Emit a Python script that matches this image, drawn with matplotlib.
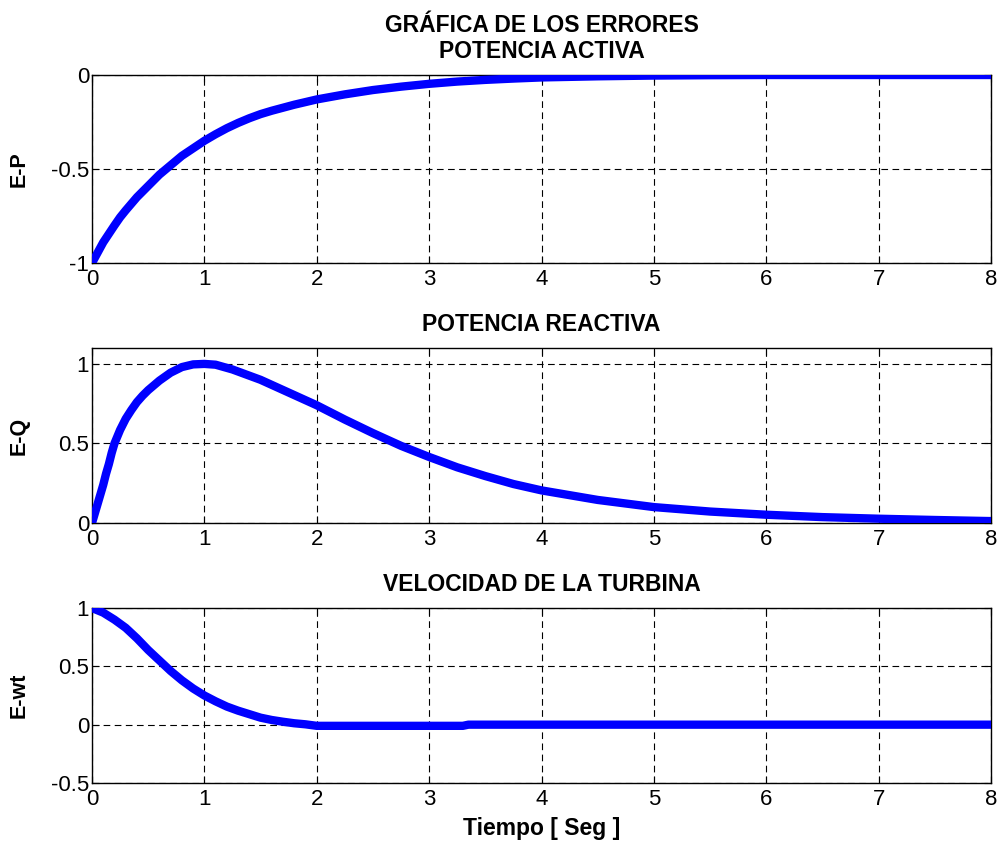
import matplotlib
matplotlib.use("Agg")
import matplotlib.pyplot as plt

plt.rcParams['font.family'] = ['Liberation Sans', 'DejaVu Sans']

# ---- data ----
t_p = [0, 0.05, 0.1, 0.15, 0.2, 0.25, 0.3, 0.4, 0.5, 0.6, 0.7, 0.8, 0.9, 1.0, 1.1,
       1.2, 1.3, 1.4, 1.5, 1.6, 1.8, 2.0, 2.25, 2.5, 2.75, 3.0, 3.25, 3.5, 3.75,
       4.0, 4.5, 5.0, 5.5, 6.0, 7.0, 8.0]
e_p = [-1.0, -0.945, -0.89, -0.845, -0.80, -0.757, -0.72, -0.65, -0.59, -0.53,
       -0.48, -0.43, -0.39, -0.35, -0.315, -0.283, -0.255, -0.23, -0.208, -0.19,
       -0.158, -0.13, -0.103, -0.08, -0.062, -0.047, -0.035, -0.026, -0.019,
       -0.013, -0.007, -0.003, -0.001, 0.0, 0.0, 0.0]

t_q = [0, 0.025, 0.05, 0.075, 0.1, 0.125, 0.15, 0.175, 0.2, 0.25, 0.3, 0.35, 0.4,
       0.45, 0.5, 0.6, 0.7, 0.8, 0.9, 1.0, 1.1, 1.25, 1.5, 1.75, 2.0, 2.25, 2.5,
       2.75, 3.0, 3.25, 3.5, 3.75, 4.0, 4.5, 5.0, 5.5, 6.0, 6.5, 7.0, 7.5, 8.0]
e_q = [0.0, 0.06, 0.12, 0.18, 0.24, 0.31, 0.37, 0.44, 0.50, 0.585, 0.655, 0.71,
       0.76, 0.80, 0.835, 0.895, 0.945, 0.98, 0.997, 1.0, 0.995, 0.965, 0.90,
       0.82, 0.74, 0.65, 0.565, 0.485, 0.415, 0.35, 0.295, 0.245, 0.205, 0.145,
       0.10, 0.072, 0.052, 0.037, 0.027, 0.019, 0.012]

t_w = [0, 0.1, 0.2, 0.3, 0.4, 0.5, 0.6, 0.7, 0.8, 0.9, 1.0, 1.1, 1.2, 1.3, 1.4,
       1.5, 1.6, 1.7, 1.8, 1.9, 2.0, 3.3, 3.35, 8.0]
e_w = [1.0, 0.96, 0.90, 0.83, 0.74, 0.64, 0.55, 0.46, 0.38, 0.31, 0.25, 0.20,
       0.155, 0.12, 0.09, 0.06, 0.04, 0.025, 0.012, 0.003, -0.01, -0.01, 0.0, 0.0]

titles = ["GRÁFICA DE LOS ERRORES\nPOTENCIA ACTIVA", "POTENCIA REACTIVA",
          "VELOCIDAD DE LA TURBINA"]
ylabels = ["E-P", "E-Q", "E-wt"]
xticks = [0, 1, 2, 3, 4, 5, 6, 7, 8]
yticks = [[-1, -0.5, 0], [0, 0.5, 1], [-0.5, 0, 0.5, 1]]
yticklabels = [["-1", "-0.5", "0"], ["0", "0.5", "1"], ["-0.5", "0", "0.5", "1"]]
ylims = [(-1, 0), (0, 1.1), (-0.5, 1)]
xlabel = "Tiempo [ Seg ]"

W, H = 1002, 846
fig = plt.figure(figsize=(W / 100, H / 100), dpi=100)

# axes boxes in pixels: (top, bottom)
boxes = [(75, 263), (348, 523), (608, 783)]
left_px, right_px = 92, 991

series = [(t_p, e_p), (t_q, e_q), (t_w, e_w)]

for i, ((top, bot), (tx, ty)) in enumerate(zip(boxes, series)):
    ax = fig.add_axes([left_px / W, (H - bot) / H, (right_px - left_px) / W,
                       (bot - top) / H])
    ax.plot(tx, ty, color=(0, 0, 1), linewidth=6, solid_capstyle='butt',
            solid_joinstyle='round', zorder=3)
    ax.set_xlim(0, 8)
    ax.set_ylim(*ylims[i])
    ax.set_xticks(xticks)
    ax.set_xticklabels([str(v) for v in xticks])
    ax.set_yticks(yticks[i])
    ax.set_yticklabels(yticklabels[i])
    ax.grid(True, color='black', linestyle=(0, (6, 4)), linewidth=0.8)
    ax.set_axisbelow(True)
    ax.tick_params(direction='in', top=True, right=True, length=5, width=0.8,
                   labelsize=16)
    ax.tick_params(axis='x', pad=4)
    ax.tick_params(axis='y', pad=2)
    for s in ax.spines.values():
        s.set_linewidth(1.0)
    ax.set_title(titles[i], fontsize=16.5, fontweight='bold', pad=12,
                 linespacing=1.2)
    ax.set_ylabel(ylabels[i], fontsize=15.5, fontweight='bold')
    ax.yaxis.set_label_coords(-0.069, 0.5)
    if i == 2:
        ax.set_xlabel(xlabel, fontsize=16.5, fontweight='bold', labelpad=5)

fig.savefig("out.png", dpi=100)
